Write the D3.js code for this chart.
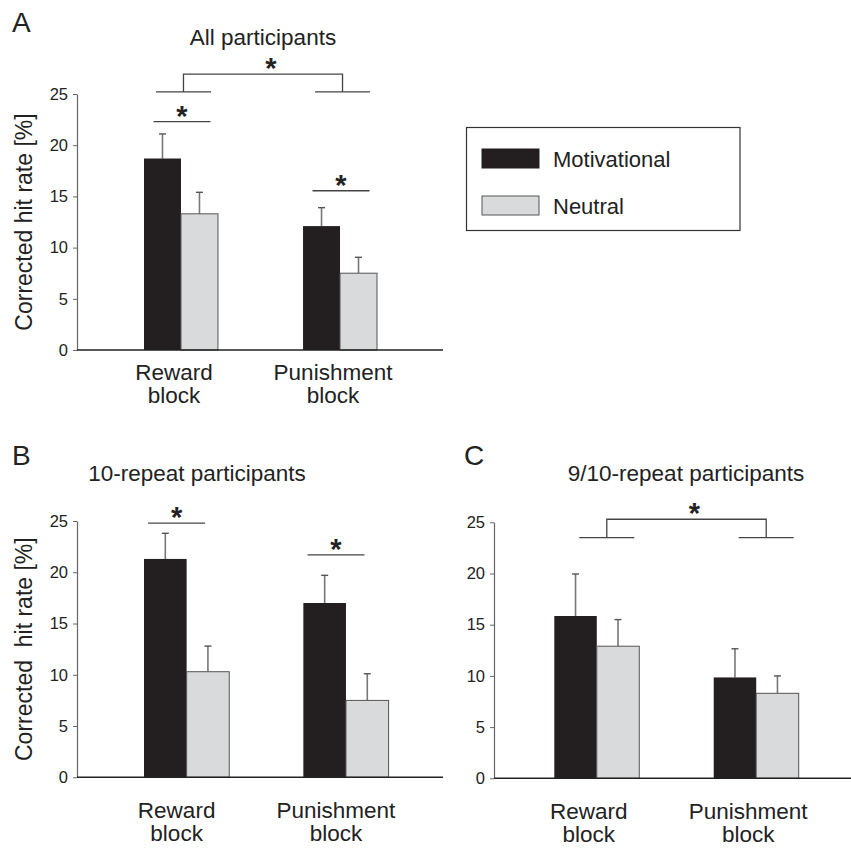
<!DOCTYPE html>
<html>
<head>
<meta charset="utf-8">
<script src="https://cdn.jsdelivr.net/npm/d3@7"></script>
<style>
  body { margin: 0; background: #fff; }
  svg { display: block; font-family: "Liberation Sans", Arial, sans-serif; }
</style>
</head>
<body>
<svg id="chart" width="851" height="848"></svg>
<script>
// categories
var blocks = ["Reward", "Punishment"];
var blockLines = [["Reward", "block"], ["Punishment", "block"]];
var series = ["Motivational", "Neutral"];
var yTicks = [0, 5, 10, 15, 20, 25];

// A: all participants
var allMotiv = [18.7, 12.1];
var allNeutral = [13.3, 7.5];
var allMotivErr = [2.4, 1.8];
var allNeutralErr = [2.1, 1.55];

// B: 10-repeat participants
var rep10Motiv = [21.3, 17.0];
var rep10Neutral = [10.3, 7.5];
var rep10MotivErr = [2.5, 2.7];
var rep10NeutralErr = [2.5, 2.6];

// C: 9/10-repeat participants
var rep9Motiv = [15.85, 9.85];
var rep9Neutral = [12.9, 8.3];
var rep9MotivErr = [4.1, 2.8];
var rep9NeutralErr = [2.6, 1.7];

// significance marks (y in data units)
var allPairSig = [22.3, 15.55];
var allBlockSig = [25.2, 26.95];
var rep10PairSig = [24.8, 21.7];
var rep9BlockSig = [23.5, 25.3];

var colors = { Motivational: "#231f20", Neutral: "#d9dadb" };
var svg = d3.select("#chart");

var drawPanel = function (p) {
    var g = svg.append("g");
    var y = d3.scaleLinear().domain([0, 25]).range([p.y0, p.y1]);
    var x0 = d3.scaleBand().domain(blocks).range(p.barRange).paddingInner(p.padIn).paddingOuter(0);
    var x1 = d3.scaleBand().domain(series).range([0, x0.bandwidth()]);

    var rows = [];
    blocks.forEach((b, i) => {
        rows.push({ block: b, s: "Motivational", v: p.motiv[i], e: p.motivErr[i] });
        rows.push({ block: b, s: "Neutral", v: p.neutral[i], e: p.neutralErr[i] });
    });

    // error bars (drawn first, bars cover the lower part)
    var eb = g.selectAll("g.err").data(rows).enter().append("g").attr("class", "err");
    eb.append("line")
        .attr("x1", d => x0(d.block) + x1(d.s) + x1.bandwidth() / 2)
        .attr("x2", d => x0(d.block) + x1(d.s) + x1.bandwidth() / 2)
        .attr("y1", d => y(d.v))
        .attr("y2", d => y(d.v + d.e))
        .attr("stroke", "#777").attr("stroke-width", 1.6);
    eb.append("line")
        .attr("x1", d => x0(d.block) + x1(d.s) + x1.bandwidth() / 2 - 3.5)
        .attr("x2", d => x0(d.block) + x1(d.s) + x1.bandwidth() / 2 + 3.5)
        .attr("y1", d => y(d.v + d.e))
        .attr("y2", d => y(d.v + d.e))
        .attr("stroke", "#555").attr("stroke-width", 1.4);

    g.selectAll("rect.bar").data(rows).enter().append("rect")
        .attr("class", "bar")
        .attr("x", d => x0(d.block) + x1(d.s))
        .attr("y", d => y(d.v))
        .attr("width", x1.bandwidth())
        .attr("height", d => y(0) - y(d.v))
        .attr("fill", d => colors[d.s])
        .attr("stroke", d => d.s == "Neutral" ? "#555" : "none")
        .attr("stroke-width", 1);

    // y axis
    var ax = g.append("g")
        .attr("transform", "translate(" + p.axisX + ",0)")
        .call(d3.axisLeft(y).tickValues(yTicks).tickSize(4).tickSizeOuter(0).tickPadding(5));
    ax.select(".domain").attr("stroke", "#666").attr("stroke-width", 1.2);
    ax.selectAll(".tick line").attr("stroke", "#666");
    ax.selectAll(".tick text").attr("font-size", 16.5).attr("fill", "#222")
        .attr("font-family", "Liberation Sans, Arial, sans-serif");

    // x axis line
    g.append("line")
        .attr("x1", p.axisX).attr("x2", p.axisEnd)
        .attr("y1", y(0)).attr("y2", y(0))
        .attr("stroke", "#222").attr("stroke-width", 1.4);

    // x labels
    blocks.forEach((b, i) => {
        var cx = x0(b) + x0.bandwidth() / 2 + p.labelShift;
        var t = g.append("text")
            .attr("text-anchor", "middle")
            .attr("font-size", 22.5).attr("fill", "#222")
            .attr("x", cx)
            .attr("y", y(0) + p.labelDy);
        t.append("tspan").attr("x", cx).text(blockLines[i][0]);
        t.append("tspan").attr("x", cx).attr("dy", 22.5).text(blockLines[i][1]);
    });

    // y label
    if (p.ylabel) {
        g.append("text")
            .attr("transform", "translate(" + 31.5 + "," + (p.y0 + p.y1) / 2 + ") rotate(-90)")
            .attr("text-anchor", "middle")
            .attr("font-size", 23).attr("fill", "#222")
            .style("white-space", "pre")
            .text(p.ylabel);
    }

    // title and panel letter
    g.append("text").attr("x", p.titleX).attr("y", p.titleY)
        .attr("text-anchor", "middle").attr("font-size", 22.5).attr("fill", "#222")
        .text(p.title);
    g.append("text").attr("x", p.letterX).attr("y", p.letterY)
        .attr("font-size", 28).attr("fill", "#222").text(p.letter);

    var star = (cx, ly) => g.append("text")
        .attr("x", cx).attr("y", ly + 4)
        .attr("text-anchor", "middle").attr("font-size", 29).attr("font-weight", "bold")
        .attr("fill", "#222").text("*");

    // within-block significance
    if (p.pairSig) {
        blocks.forEach((b, i) => {
            var cx = x0(b) + x0.bandwidth() / 2 + p.pairShift;
            var ly = y(p.pairSig[i]);
            g.append("line")
                .attr("x1", cx - 28.5).attr("x2", cx + 28.5)
                .attr("y1", ly).attr("y2", ly)
                .attr("stroke", "#444").attr("stroke-width", 1.3);
            star(cx, ly);
        });
    }

    // between-block bracket
    if (p.blockSig) {
        var low = y(p.blockSig[0]), high = y(p.blockSig[1]);
        var cs = blocks.map(b => x0(b) + x0.bandwidth() / 2 + p.bracketShift);
        cs.forEach(c => {
            g.append("line").attr("x1", c - 27.5).attr("x2", c + 27.5)
                .attr("y1", low).attr("y2", low)
                .attr("stroke", "#444").attr("stroke-width", 1.3);
        });
        g.append("path")
            .attr("d", "M" + cs[0] + "," + low + "V" + high + "H" + cs[1] + "V" + low)
            .attr("fill", "none").attr("stroke", "#444").attr("stroke-width", 1.3);
        star((cs[0] + cs[1]) / 2 + 8, high);
    }
};

drawPanel({
    letter: "A", letterX: 12, letterY: 32,
    title: "All participants", titleX: 263, titleY: 45,
    ylabel: "Corrected hit rate [%]",
    motiv: allMotiv, neutral: allNeutral, motivErr: allMotivErr, neutralErr: allNeutralErr,
    y0: 350, y1: 94, axisX: 77, axisEnd: 443,
    barRange: [144, 377], padIn: 0.535,
    labelShift: -7, labelDy: 30,
    pairSig: allPairSig, pairShift: 1,
    blockSig: allBlockSig, bracketShift: 2.5
});

drawPanel({
    letter: "B", letterX: 12, letterY: 465,
    title: "10-repeat participants", titleX: 197, titleY: 481,
    ylabel: "Corrected  hit rate [%]",
    motiv: rep10Motiv, neutral: rep10Neutral, motivErr: rep10MotivErr, neutralErr: rep10NeutralErr,
    y0: 777.3, y1: 521, axisX: 77, axisEnd: 443,
    barRange: [144, 388.6], padIn: 0.465,
    labelShift: -10, labelDy: 41,
    pairSig: rep10PairSig, pairShift: -10
});

drawPanel({
    letter: "C", letterX: 464, letterY: 465,
    title: "9/10-repeat participants", titleX: 686, titleY: 481,
    ylabel: null,
    motiv: rep9Motiv, neutral: rep9Neutral, motivErr: rep9MotivErr, neutralErr: rep9NeutralErr,
    y0: 778.3, y1: 522.3, axisX: 494, axisEnd: 851,
    barRange: [554.3, 798.7], padIn: 0.467,
    labelShift: -8, labelDy: 41,
    blockSig: rep9BlockSig, bracketShift: 10
});

// legend
var legend = svg.append("g");
legend.append("rect").attr("x", 466.5).attr("y", 127.5).attr("width", 273.5).attr("height", 103)
    .attr("fill", "none").attr("stroke", "#333").attr("stroke-width", 1.2);
series.forEach((s, i) => {
    legend.append("rect")
        .attr("x", 482).attr("y", 149 + i * 47).attr("width", 57).attr("height", 19)
        .attr("fill", colors[s])
        .attr("stroke", s == "Neutral" ? "#555" : colors[s]).attr("stroke-width", 1);
    legend.append("text").attr("x", 553).attr("y", 166.5 + i * 47)
        .attr("font-size", 22).attr("fill", "#222").text(s);
});
</script>
</body>
</html>
